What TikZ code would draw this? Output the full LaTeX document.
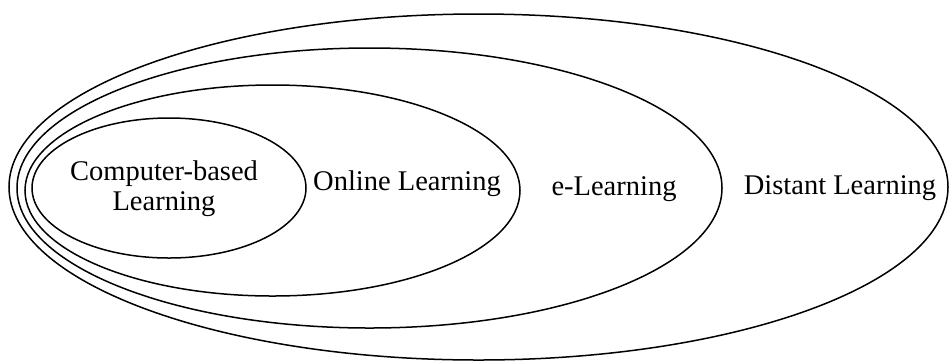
\documentclass[tikz,border=0pt]{standalone}
\usepackage{fontspec}
\setmainfont{Liberation Serif}
\usepackage{tikz}
\tikzstyle{ring}=[draw=black, line width=1.5pt]
\tikzstyle{area}=[inner sep=0pt, anchor=base, font=\fontsize{28.5}{30}\selectfont, align=center]

\begin{document}
\begin{tikzpicture}[x=1pt, y=-1pt]
      \useasboundingbox (0,0) rectangle (949,360);

      % nested sets, all nearly touching on the left
      \draw[ring] (478.5,187)  ellipse (469.5 and 173);
      \draw[ring] (369.5,188)  ellipse (352.5 and 140);
      \draw[ring] (272.5,190.5) ellipse (247.5 and 105.5);
      \draw[ring] (169,188)    ellipse (137 and 70);

      \node[area] (cbl)     at (164,210) {Computer-based\\Learning};
      \node[area] (online)  at (407,190) {Online Learning};
      \node[area] (elearn)  at (614,195) {e-Learning};
      \node[area] (distant) at (840,194) {Distant Learning};
    \end{tikzpicture}
\end{document}
